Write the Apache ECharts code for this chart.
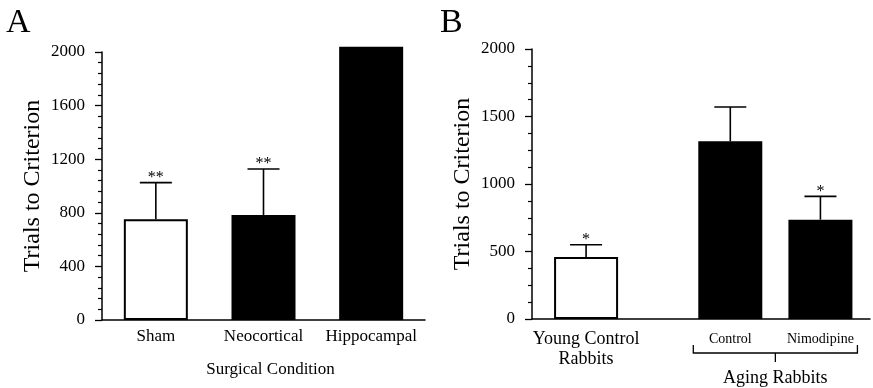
<!DOCTYPE html>
<html>
<head>
<meta charset="utf-8">
<script src="https://cdn.jsdelivr.net/npm/echarts@6/dist/echarts.min.js"></script>
<style>
  html, body { margin: 0; padding: 0; background: #fff; }
  #chart { width: 873px; height: 388px; }
</style>
</head>
<body>
<div id="chart"></div>
<script>
// panel A - surgical condition
const catsA = ['Sham', 'Neocortical', 'Hippocampal'];
const meansA = [751, 784, 2040];
const errTopA = [1025, 1127, null];
const starsA = ['**', '**', ''];
const fillA = ['#fff', '#000', '#000'];

// panel B - aging rabbits
const catsB = ['Young Control\nRabbits', 'Control', 'Nimodipine'];
const posB = [1, 2.6, 3.6];
const meansB = [459, 1316, 736];
const errTopB = [550, 1570, 908];
const starsB = ['*', '', '*'];
const fillB = ['#fff', '#000', '#000'];

const FONT = 'Liberation Serif';
const BAR_W = 64;

const chart = echarts.init(document.getElementById('chart'));

function errorRenderer(stars) {
  return function (params, api) {
    const x = api.value(0);
    const base = api.coord([x, api.value(1)]);
    const tip = api.coord([x, api.value(2)]);
    const star = stars[api.value(3)];
    const st = { stroke: '#000', lineWidth: 1.6 };
    return {
      type: 'group',
      children: [
        { type: 'line', shape: { x1: base[0], y1: base[1], x2: tip[0], y2: tip[1] }, style: st },
        { type: 'line', shape: { x1: tip[0] - 16, y1: tip[1], x2: tip[0] + 16, y2: tip[1] }, style: st },
        { type: 'text', x: tip[0], y: tip[1] - 5,
          style: { text: star, font: '16px "' + FONT + '"', fill: '#000', align: 'center', verticalAlign: 'middle' } }
      ]
    };
  };
}

function yAxisCommon(interval, split) {
  return {
    type: 'value', min: 0, max: 2000, interval: interval,
    axisLine: { show: true, lineStyle: { color: '#000', width: 1.5 } },
    axisTick: { show: true, length: 7, lineStyle: { color: '#000', width: 1.3 } },
    minorTick: { show: true, splitNumber: split, length: 4, lineStyle: { color: '#000', width: 1.2 } },
    splitLine: { show: false },
    axisLabel: { color: '#000', fontFamily: FONT, fontSize: 17, margin: 17, formatter: v => String(v) },
    name: 'Trials to Criterion',
    nameLocation: 'middle',
    nameGap: 57,
    nameTextStyle: { color: '#000', fontFamily: FONT, fontSize: 24 }
  };
}

const option = {
  animation: false,
  backgroundColor: '#fff',
  grid: [
    { left: 102, right: 448, top: 52, bottom: 68 },
    { left: 532, right: 3, top: 49, bottom: 69 }
  ],
  xAxis: [
    {
      type: 'category', gridIndex: 0, data: catsA,
      axisLine: { lineStyle: { color: '#000', width: 1.5 } },
      axisTick: { show: false },
      axisLabel: { color: '#000', fontFamily: FONT, fontSize: 17, margin: 8, interval: 0, hideOverlap: false },
      name: 'Surgical Condition', nameLocation: 'middle', nameGap: 41,
      nameTextStyle: { color: '#000', fontFamily: FONT, fontSize: 17, padding: [0, 0, 0, 14] }
    },
    {
      type: 'value', gridIndex: 1, min: 0.4, max: 4.15,
      splitLine: { show: false },
      axisLine: { show: true, onZero: false, lineStyle: { color: '#000', width: 1.5 } },
      axisTick: { show: false },
      axisLabel: {
        customValues: posB,
        margin: 10,
        formatter: function (v) {
          const i = posB.findIndex(p => Math.abs(p - v) < 1e-6);
          if (i < 0) return '';
          if (i === 0) return catsB[0].split('\n').map(s => '{big|' + s + '}').join('\n');
          return '{small|' + catsB[i] + '}';
        },
        rich: {
          big: { color: '#000', fontFamily: FONT, fontSize: 18, lineHeight: 20 },
          small: { color: '#000', fontFamily: FONT, fontSize: 14, lineHeight: 20 }
        }
      }
    }
  ],
  yAxis: [
    Object.assign({ gridIndex: 0 }, yAxisCommon(400, 5)),
    Object.assign({ gridIndex: 1 }, yAxisCommon(500, 4))
  ],
  series: [
    {
      type: 'bar', xAxisIndex: 0, yAxisIndex: 0, barWidth: BAR_W, clip: false,
      data: meansA.map((v, i) => ({
        value: v,
        itemStyle: { color: fillA[i], borderColor: '#000', borderWidth: 2 }
      }))
    },
    {
      type: 'custom', xAxisIndex: 0, yAxisIndex: 0, z: 5,
      renderItem: errorRenderer(starsA),
      data: meansA.map((m, i) => [i, m, errTopA[i], i]).filter(d => d[2] != null)
    },
    {
      type: 'bar', xAxisIndex: 1, yAxisIndex: 1, barWidth: BAR_W,
      data: meansB.map((v, i) => ({
        value: [posB[i], v],
        itemStyle: { color: fillB[i], borderColor: '#000', borderWidth: 2 }
      }))
    },
    {
      type: 'custom', xAxisIndex: 1, yAxisIndex: 1, z: 5,
      renderItem: errorRenderer(starsB),
      data: meansB.map((m, i) => [posB[i], m, errTopB[i], i])
    }
  ]
};

chart.setOption(option);

// bracket grouping the aging rabbits, placed from the axis scale
const left = chart.convertToPixel({ gridIndex: 1 }, [posB[1], 0]);
const right = chart.convertToPixel({ gridIndex: 1 }, [posB[2], 0]);
const x1 = left[0] - BAR_W / 2 - 5;
const x2 = right[0] + BAR_W / 2 + 5;
const y0 = left[1];
const xm = (left[0] + right[0]) / 2;
const br = { stroke: '#000', lineWidth: 1.3 };

chart.setOption({
  graphic: [
    { type: 'text', id: 'lA', left: 6, top: 6,
      style: { text: 'A', font: '34px "' + FONT + '"', fill: '#000' } },
    { type: 'text', id: 'lB', left: 440, top: 6,
      style: { text: 'B', font: '34px "' + FONT + '"', fill: '#000' } },
    { type: 'polyline', id: 'br', shape: { points: [[x1, y0 + 26], [x1, y0 + 34], [x2, y0 + 34], [x2, y0 + 26]] }, style: br },
    { type: 'line', id: 'brm', shape: { x1: xm, y1: y0 + 34, x2: xm, y2: y0 + 43 }, style: br },
    { type: 'text', id: 'aging', x: xm, y: y0 + 59,
      style: { text: 'Aging Rabbits', font: '18px "' + FONT + '"', fill: '#000', align: 'center', verticalAlign: 'middle' } }
  ]
});
</script>
</body>
</html>
